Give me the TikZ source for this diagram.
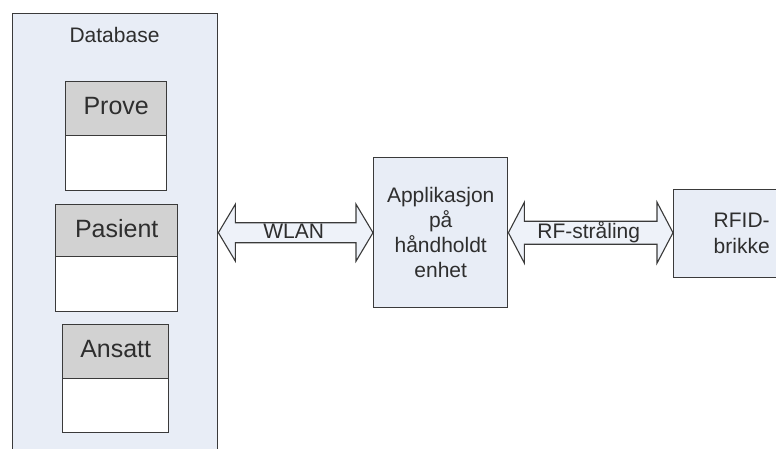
\documentclass[tikz,border=0pt]{standalone}
\usepackage{fontspec}
\setmainfont{Liberation Sans}
\usetikzlibrary{calc}

\definecolor{panel}{HTML}{E8EDF6}
\definecolor{headgray}{HTML}{D2D2D2}
\definecolor{edge}{HTML}{3A3A3A}
\definecolor{arrowfill}{HTML}{EEF2F9}
\definecolor{ink}{HTML}{2E2E2E}

% Hollow two-headed arrow between two points:
% #1 start tip, #2 end tip, #3 head length, #4 shaft half-height, #5 head half-height
\newcommand{\twowayarrow}[5]{%
  \draw[flow] (#1) -- ++(#3,-#5) -- ++(0,#5-#4) -- ($(#2)+(-#3,-#4)$)
    -- ++(0,#4-#5) -- (#2) -- ++(-#3,#5) -- ++(0,#4-#5)
    -- ($(#1)+(#3,#4)$) -- ++(0,#5-#4) -- cycle;}

\begin{document}
\begin{tikzpicture}[x=1pt,y=-1pt,
  box/.style={draw=edge, line width=1.4pt, fill=panel, inner sep=0pt, anchor=north west},
  headbox/.style={draw=edge, line width=1.4pt, fill=headgray, inner sep=0pt,
    anchor=north west, font=\fontsize{25}{28}\selectfont, text=ink, text depth=5pt},
  bodybox/.style={draw=edge, line width=1.4pt, fill=white, inner sep=0pt, anchor=north west},
  lbl/.style={font=\fontsize{21}{24}\selectfont, text=ink, inner sep=0pt},
  flow/.style={draw=edge, line width=1.1pt, fill=arrowfill, line join=miter}]

\clip (0,0) rectangle (776,449);

% database container and its tables
\node[box, minimum width=205pt, minimum height=460pt] (db) at (12,13) {};
\node[lbl, anchor=base] (dbtitle) at (114.5,43) {Database};

\node[bodybox, minimum width=101pt, minimum height=55pt] (provebody) at (65,135) {};
\node[headbox, minimum width=101pt, minimum height=54pt] (prove) at (65,81) {Prove};

\node[bodybox, minimum width=122pt, minimum height=55pt] (pasientbody) at (55,256) {};
\node[headbox, minimum width=122pt, minimum height=52pt] (pasient) at (55,204) {Pasient};

\node[bodybox, minimum width=106pt, minimum height=54pt] (ansattbody) at (62,378) {};
\node[headbox, minimum width=106pt, minimum height=54pt] (ansatt) at (62,324) {Ansatt};

% handheld application and RFID tag (tag box runs off the right edge)
\node[box, minimum width=136pt, minimum height=88pt, align=left,
      font=\fontsize{21}{26}\selectfont, text=ink] (rfid) at (673,189)
      {RFID-\\brikke};
\node[box, minimum width=134pt, minimum height=150pt, align=center,
      font=\fontsize{21}{25}\selectfont, text=ink] (app) at (373,157)
      {Applikasjon\\på\\håndholdt\\enhet};

% connectors
\coordinate (wl) at (db.east |- app.center);
\coordinate (wr) at (app.west);
\coordinate (rl) at (app.east);
\coordinate (rr) at (rfid.west |- app.center);

\twowayarrow{wl}{wr}{17}{10}{28.5}
\twowayarrow{rl}{rr}{16}{11.5}{30.5}

\node[lbl, anchor=base] (wlan) at ($(wl)!0.5!(wr)+(-2,6)$) {WLAN};
\node[lbl, anchor=base] (rf) at ($(rl)!0.5!(rr)+(-2,6)$) {RF-stråling};
\end{tikzpicture}
\end{document}
